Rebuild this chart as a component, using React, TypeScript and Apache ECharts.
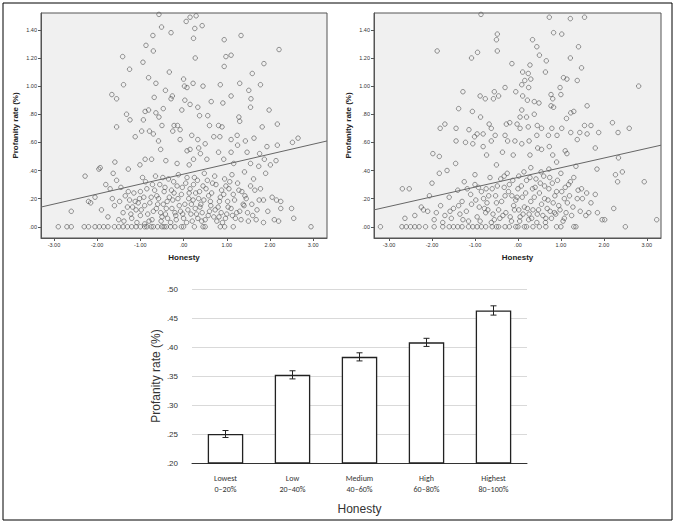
import React, { useEffect, useRef } from 'react';
import * as echarts from 'echarts';

// ---- panel A (left scatter) ----
const scatterAUpper: number[][] = [
  [-0.57,1.51],[0.06,1.46],[0.15,1.49],[0.29,1.5],[0.43,1.43],[-0.51,1.42],[-0.29,1.38],[-0.71,1.36],[0.23,1.34],[0.26,1.41],
  [1.33,1.36],[0.94,1.33],[-0.87,1.29],[-0.7,1.25],[-1.41,1.21],[0.98,1.21],[1.1,1.22],[2.21,1.26],[0.27,1.2],[-0.94,1.17],
  [1.86,1.16],[-1.25,1.12],[0.94,1.14],[-0.33,1.1],[-0.81,1.06],[1.59,1.09],[0,1.05],[-1.39,1.01],[-0.64,1.02],[0.22,1.02],
  [1.3,1.02],[1.78,1.01],[0.02,1],[0.08,0.99],[0.45,1],[0.85,1.01],[1.51,0.97],[-0.42,0.97],[-1.66,0.94],[-1.55,0.91],
  [-0.26,0.93],[-0.68,0.92],[1.1,0.93],[1.56,0.91],[-0.29,0.91],[0.03,0.9],[0.64,0.89],[0.91,0.88],[0.15,0.87],[0.33,0.85],
  [1.55,0.85],[-0.47,0.84],[-0.04,0.83],[1.98,0.83],[-0.89,0.82],[-0.81,0.83],[-1.32,0.8],[-0.64,0.81],[-0.57,0.78],[0.37,0.79],
  [0.56,0.79],[1.28,0.78],[-1.24,0.76],[-0.93,0.76],[-0.5,0.72],[-0.22,0.72],[-0.14,0.72],[0.6,0.72],[0.81,0.72],[0.89,0.71],
  [1.3,0.75],[1.82,0.71],[2.17,0.73],[-1.55,0.71],[-0.97,0.68],[-0.79,0.68],[-0.7,0.66],[-0.25,0.68],[-0.08,0.69],[0.19,0.65],
  [0.7,0.64],[0.84,0.64],[1.1,0.62],[1.24,0.65],[1.63,0.63],[-1.12,0.64],[-0.08,0.62],[0.33,0.62],[2.52,0.6],[2.65,0.63],
  [2.17,0.58],[1.93,0.57],[1.43,0.61],[-0.58,0.61],[0.5,0.59],[1.25,0.58],[0.35,0.56],[0.15,0.55],[-0.53,0.55],[0.08,0.54],
  [0.39,0.52],[0.81,0.53],[1.1,0.53],[1.47,0.53],[1.76,0.52],[-1.59,0.46],[1.87,0.48],[2.14,0.47],[-0.89,0.48],[-0.74,0.48],
  [-0.41,0.47],[0.23,0.48],[0.54,0.48],[0.93,0.48],[1.16,0.45],[1.55,0.45],[2.01,0.44],[-1.01,0.44],[-0.15,0.45],[0.13,0.44],
  [-1.63,0.38],[-1.28,0.41],[-1.93,0.42],[-1.96,0.41],[1.41,0.39],[1.9,0.38],[1.74,0.43],[-2.28,0.36],
];
const scatterALower: number[][] = [
  [-1.8,0.3],[-1.7,0.27],[-1.55,0.33],[-1.45,0.28],[-1.35,0.22],[-1.25,0.19],[-1.15,0.24],[-1.05,0.17],[-0.95,0.35],[-0.85,0.27],
  [-0.75,0.21],[-0.65,0.36],[-0.55,0.3],[-0.45,0.25],[-0.35,0.34],[-0.25,0.19],[-0.15,0.29],[-0.05,0.23],[0.05,0.31],[0.15,0.27],
  [0.25,0.35],[0.35,0.2],[0.45,0.29],[0.55,0.33],[0.65,0.24],[0.75,0.3],[0.85,0.21],[0.95,0.34],[1.05,0.27],[1.15,0.23],
  [1.25,0.31],[1.35,0.25],[1.45,0.2],[1.55,0.29],[1.65,0.26],[1.75,0.19],[1.85,0.19],[2.05,0.21],[2.15,0.19],[2.25,0.18],
  [-2.2,0.18],[-2.05,0.21],[-1.9,0.12],[-1.75,0.07],[-1.6,0.15],[-1.5,0.05],[-1.4,0.1],[-1.3,0.14],[-1.2,0.06],[-1.1,0.12],
  [-1.0,0.08],[-0.9,0.15],[-0.8,0.04],[-0.7,0.11],[-0.6,0.16],[-0.5,0.07],[-0.4,0.13],[-0.3,0.03],[-0.2,0.1],[-0.1,0.15],
  [0.0,0.06],[0.1,0.12],[0.2,0.04],[0.3,0.09],[0.4,0.16],[0.5,0.05],[0.6,0.11],[0.7,0.07],[0.8,0.14],[0.9,0.03],
  [1.0,0.09],[1.1,0.13],[1.2,0.06],[1.3,0.11],[1.4,0.15],[1.5,0.04],[1.6,0.08],[1.7,0.12],[1.85,0.03],[1.95,0.11],
  [2.1,0.05],[2.2,0.04],[2.25,0.13],[2.5,0.13],[2.55,0.06],[-2.6,0.11],[-2.15,0.17],[-1.65,0.2],[-1.0,0.25],[-0.62,0.22],
  [-0.38,0.18],[-0.12,0.37],[0.12,0.2],[0.38,0.14],[0.62,0.18],[0.88,0.26],[1.12,0.37],[1.38,0.16],[1.62,0.34],[-0.9,0.02],
  [-0.28,0.26],[0.28,0.24],[0.48,0.38],[-0.48,0.35],[0.72,0.36],[-0.72,0.3],[1.02,0.18],[-1.02,0.2],[0.18,0.16],[-0.18,0.08],
];
const scatterADense: number[][] = [
  [-1.22,0.09],[-1.12,0.18],[-1.08,0.03],[-0.98,0.12],[-0.92,0.21],[-0.83,0.09],[-0.78,0.17],[-0.73,0.05],[-0.67,0.26],[-0.63,0.13],
  [-0.58,0.2],[-0.53,0.1],[-0.47,0.16],[-0.43,0.28],[-0.37,0.06],[-0.33,0.21],[-0.27,0.13],[-0.23,0.32],[-0.17,0.05],[-0.13,0.2],
  [-0.07,0.11],[-0.03,0.28],[0.03,0.16],[0.07,0.03],[0.13,0.24],[0.17,0.09],[0.23,0.3],[0.27,0.13],[0.33,0.06],[0.37,0.25],
  [0.43,0.1],[0.47,0.19],[0.52,0.27],[0.57,0.08],[0.63,0.15],[0.67,0.31],[0.73,0.12],[0.77,0.04],[0.83,0.18],[0.87,0.1],
  [0.93,0.23],[0.97,0.06],[1.03,0.14],[1.07,0.32],[1.13,0.08],[1.18,0.19],[1.23,0.1],[1.28,0.26],[1.33,0.05],[1.42,0.22],
  [1.48,0.1],[1.58,0.16],[1.68,0.05],[1.78,0.27],[-1.48,0.18],[-1.38,0.04],[-1.28,0.25],[-1.18,0.14],[-0.88,0.32],[-0.52,0.04],
  [0.08,0.35],[0.58,0.22],[0.98,0.29],[-0.02,0.09],[0.32,0.33],[-0.42,0.09],[0.22,0.19],[0.82,0.07],[-0.22,0.24],[0.42,0.04],
];
const scatterAZeroX: number[] = [
  -2.9,-2.7,-2.6,-2.3,-2.2,-2.05,-1.95,-1.85,-1.75,-1.6,-1.5,-1.4,-1.3,-1.2,-1.1,-1.0,-0.9,-0.85,-0.75,-0.7,-0.6,-0.5,
  -0.45,-0.4,-0.3,-0.2,-0.05,0.0,0.25,0.45,0.5,0.85,0.95,1.15,2.95,
];
const lineA: number[][] = [[-3.3,0.14],[3.32,0.61]];

// ---- panel B (right scatter) ----
const scatterBUpper: number[][] = [
  [-0.86,1.51],[-0.06,1.53],[0.73,1.49],[1.22,1.48],[1.55,1.49],[-0.48,1.37],[-0.5,1.33],[0.34,1.33],[0.83,1.38],[1.02,1.37],
  [-0.48,1.25],[-1.88,1.25],[-0.94,1.24],[0.44,1.28],[1.41,1.28],[-1.08,1.2],[0.5,1.22],[1.22,1.2],[0.66,1.18],[-0.14,1.16],
  [0.28,1.15],[1.48,1.13],[0.11,1.1],[0.64,1.1],[0.24,1.09],[1.06,1.06],[1.14,1.05],[0.3,1.05],[0.16,1.04],[1.38,1.04],
  [0.09,1.01],[0.25,0.99],[0.98,0.99],[-0.3,0.99],[2.81,1],[-1.28,0.96],[-0.55,0.96],[-0.05,0.96],[-0.88,0.93],[-0.45,0.93],
  [0.11,0.93],[0.77,0.94],[1,0.94],[-0.76,0.91],[-0.57,0.91],[0.81,0.91],[0.22,0.9],[0.38,0.89],[0.49,0.88],[0.77,0.86],
  [1.61,0.86],[-1.38,0.84],[0.83,0.85],[0.09,0.83],[-1.06,0.82],[1.3,0.82],[1.23,0.81],[0.38,0.8],[-0.87,0.78],[0.05,0.78],
  [0.2,0.78],[1.13,0.77],[-0.67,0.73],[-0.27,0.73],[-0.19,0.74],[-0.02,0.73],[2.2,0.74],[-1.7,0.73],[-1.81,0.7],[-1.44,0.7],
  [-0.62,0.7],[0.05,0.7],[0.24,0.71],[0.45,0.72],[0.55,0.7],[0.79,0.7],[1.02,0.7],[1.55,0.72],[1.7,0.72],[2.59,0.7],
  [-1.14,0.69],[1.88,0.67],[2.33,0.67],[1.23,0.67],[1.44,0.67],[1.61,0.66],[-0.95,0.66],[-0.81,0.66],[-0.53,0.65],[-0.3,0.65],
  [0.44,0.65],[0.71,0.65],[0.91,0.65],[-1.01,0.64],[-1.44,0.61],[-1.22,0.6],[-0.62,0.61],[-0.24,0.61],[-0.07,0.61],[0.26,0.61],
  [1.38,0.62],[-1.05,0.59],[0.09,0.59],[-0.81,0.57],[1.8,0.56],[0.73,0.57],[0.46,0.56],[0.55,0.55],[-1.98,0.52],[-1.83,0.5],
  [-0.73,0.51],[-0.36,0.53],[1.1,0.54],[1.14,0.52],[2.34,0.49],[-0.11,0.51],[0.28,0.51],[0.81,0.51],[1.84,0.41],[2.43,0.39],
  [-1.83,0.38],[-1.65,0.4],[2.27,0.37],[2.32,0.32],[2.94,0.32],[-2.69,0.27],[-2.53,0.27],[-2.0,0.31],[-2.06,0.22],[2.23,0.13],
  [3.23,0.05],[2.02,0.05],[1.96,0.05],
];
const scatterBLower: number[][] = [
  [-1.9,0.1],[-1.8,0.15],[-1.7,0.08],[-1.6,0.21],[-1.5,0.13],[-1.4,0.26],[-1.3,0.18],[-1.2,0.11],[-1.1,0.23],[-1.0,0.3],
  [-0.9,0.14],[-0.8,0.2],[-0.7,0.12],[-0.6,0.27],[-0.5,0.17],[-0.4,0.34],[-0.3,0.22],[-0.2,0.3],[-0.1,0.15],[0.0,0.27],
  [0.1,0.21],[0.2,0.33],[0.3,0.18],[0.4,0.28],[0.5,0.24],[0.6,0.36],[0.7,0.19],[0.8,0.31],[0.9,0.25],[1.0,0.38],
  [1.1,0.28],[1.2,0.22],[1.3,0.35],[1.4,0.26],[1.5,0.2],[1.6,0.24],[1.7,0.17],[1.8,0.23],[1.85,0.1],[1.65,0.1],
  [-2.4,0.08],[-2.25,0.14],[-2.1,0.11],[-1.95,0.05],[-1.75,0.03],[-1.55,0.06],[-1.35,0.09],[-1.15,0.04],[-0.95,0.07],[-0.75,0.1],
  [-0.55,0.05],[-0.35,0.08],[-0.15,0.04],[0.05,0.07],[0.25,0.05],[0.45,0.09],[0.65,0.06],[0.85,0.1],[1.05,0.04],[1.25,0.08],
  [1.45,0.11],[-0.85,0.25],[-0.45,0.12],[-0.25,0.38],[0.15,0.14],[0.35,0.12],[0.55,0.16],[0.75,0.11],[0.95,0.15],[1.15,0.17],
  [-1.25,0.32],[-0.65,0.35],[0.02,0.36],[0.62,0.29],[1.22,0.32],[-1.45,0.45],[-1.0,0.37],[-0.5,0.44],[0.3,0.42],[0.9,0.46],
  [1.35,0.43],[-2.63,0.06],[-2.2,0.12],[-0.05,0.19],[-0.32,0.28],[0.42,0.34],[0.72,0.41],[1.08,0.2],[-0.72,0.17],[-1.08,0.16],
];
const scatterBDense: number[][] = [
  [-0.98,0.19],[-0.88,0.04],[-0.78,0.13],[-0.68,0.22],[-0.58,0.09],[-0.48,0.29],[-0.42,0.06],[-0.38,0.18],[-0.28,0.1],[-0.22,0.25],
  [-0.18,0.07],[-0.12,0.33],[-0.08,0.12],[-0.02,0.21],[0.04,0.04],[0.08,0.29],[0.12,0.09],[0.18,0.24],[0.22,0.13],[0.28,0.35],
  [0.32,0.06],[0.38,0.21],[0.48,0.12],[0.52,0.31],[0.58,0.08],[0.62,0.2],[0.68,0.13],[0.72,0.27],[0.78,0.06],[0.82,0.17],
  [0.88,0.09],[0.92,0.33],[0.98,0.12],[1.02,0.25],[1.12,0.1],[1.18,0.3],[1.28,0.14],[1.38,0.2],[1.48,0.27],[1.58,0.08],
  [-1.28,0.05],[-1.18,0.27],[-1.38,0.15],[-1.58,0.11],[-0.92,0.28],[-0.62,0.03],[-0.32,0.36],[0.14,0.39],[0.44,0.03],[0.74,0.35],
  [-0.52,0.22],[0.02,0.12],[0.34,0.27],[0.64,0.03],[-0.14,0.22],[0.54,0.39],[1.08,0.06],[-0.74,0.27],[0.26,0.09],[0.86,0.22],
];
const scatterBZeroX: number[] = [
  -3.2,-2.7,-2.6,-2.5,-2.4,-2.3,-2.15,-1.95,-1.75,-1.6,-1.5,-1.4,-1.3,-1.15,-1.05,-0.95,-0.85,-0.75,-0.6,-0.5,-0.45,
  -0.3,-0.2,-0.05,0.0,0.15,0.2,0.35,0.5,0.65,0.9,1.0,1.3,1.35,2.5,
];
const lineB: number[][] = [[-3.35,0.12],[3.33,0.58]];

// ---- panel C (bars) ----
const barCategories = ['Lowest\n0–20%', 'Low\n20–40%', 'Medium\n40–60%', 'High\n60–80%', 'Highest\n80–100%'];
const barValues = [0.25, 0.352, 0.383, 0.408, 0.463];
const barErrors = [0.006, 0.007, 0.007, 0.007, 0.008];

const scatterTicksX = [-3, -2, -1, 0, 1, 2, 3];
const scatterTicksY = [0, 0.2, 0.4, 0.6, 0.8, 1.0, 1.2, 1.4];

const fmt = (v: number) => {
  const s = Math.abs(v).toFixed(2).replace(/^0/, '');
  return v < -0.0001 ? '-' + Math.abs(v).toFixed(2) : s;
};

const App: React.FC = () => {
  const ref = useRef<HTMLDivElement>(null);

  useEffect(() => {
    if (!ref.current) return;
    const chart = echarts.init(ref.current, null, { renderer: 'svg' });

    const scatterX = (gi: number, min: number, max: number) => ({
      type: 'value' as const,
      gridIndex: gi,
      min,
      max,
      name: 'Honesty',
      nameLocation: 'middle' as const,
      nameGap: 15,
      nameTextStyle: { fontSize: 8, fontWeight: 'bold', color: '#222', fontFamily: 'Arial' },
      axisLine: { onZero: false, lineStyle: { color: '#555' } },
      axisTick: { show: true, customValues: scatterTicksX, length: 3, lineStyle: { color: '#555' } },
      axisLabel: { customValues: scatterTicksX, formatter: fmt, fontSize: 5.5, color: '#333', margin: 4 },
      splitLine: { show: false },
    });
    const scatterY = (gi: number) => ({
      type: 'value' as const,
      gridIndex: gi,
      min: -0.08,
      max: 1.52,
      name: 'Profanity rate (%)',
      nameLocation: 'middle' as const,
      nameGap: 22,
      nameTextStyle: { fontSize: 8, fontWeight: 'bold', color: '#222', fontFamily: 'Arial' },
      axisLine: { show: true, onZero: false, lineStyle: { color: '#555' } },
      axisTick: { show: true, customValues: scatterTicksY, length: 3, lineStyle: { color: '#555' } },
      axisLabel: { customValues: scatterTicksY, formatter: fmt, fontSize: 5.5, color: '#333', margin: 4 },
      splitLine: { show: false },
    });

    const dots = (gi: number, data: number[][]) => ({
      type: 'scatter' as const,
      xAxisIndex: gi,
      yAxisIndex: gi,
      symbol: 'circle',
      symbolSize: 4.5,
      itemStyle: { color: 'rgba(0,0,0,0)', borderColor: '#555', borderWidth: 0.8 },
      data,
      silent: true,
    });
    const fit = (gi: number, data: number[][]) => ({
      type: 'line' as const,
      xAxisIndex: gi,
      yAxisIndex: gi,
      data,
      symbol: 'none',
      lineStyle: { color: '#666', width: 1 },
      silent: true,
    });

    chart.setOption({
      animation: false,
      textStyle: { fontFamily: 'Arial' },
      graphic: [
        { type: 'rect', shape: { x: 3, y: 3, width: 669, height: 517 }, style: { fill: 'none', stroke: '#000', lineWidth: 1 } },
      ],
      grid: [
        { left: 41, top: 13, width: 286, height: 225, show: true, backgroundColor: '#f0f0f0', borderColor: '#555' },
        { left: 374, top: 13, width: 287, height: 225, show: true, backgroundColor: '#f0f0f0', borderColor: '#555' },
        { left: 192, top: 289, width: 335, height: 174 },
      ],
      xAxis: [
        scatterX(0, -3.3, 3.32),
        scatterX(1, -3.35, 3.33),
        {
          type: 'category',
          gridIndex: 2,
          data: barCategories,
          axisLine: { lineStyle: { color: '#333', width: 1 } },
          axisTick: { show: false },
          axisLabel: { fontSize: 8, color: '#333', lineHeight: 11, margin: 9, fontFamily: 'Calibri, Carlito, Liberation Sans' },
          name: 'Honesty',
          nameLocation: 'middle',
          nameGap: 40,
          nameTextStyle: { fontSize: 12, color: '#333' },
        },
      ],
      yAxis: [
        scatterY(0),
        scatterY(1),
        {
          type: 'value',
          gridIndex: 2,
          min: 0.2,
          max: 0.5,
          interval: 0.05,
          axisLine: { show: false },
          axisTick: { show: false },
          axisLabel: { formatter: fmt, fontSize: 8, color: '#333', margin: 14 },
          splitLine: { lineStyle: { color: '#d9d9d9' } },
          name: 'Profanity rate (%)',
          nameLocation: 'middle',
          nameGap: 30,
          nameTextStyle: { fontSize: 12, color: '#333' },
        },
      ],
      series: [
        dots(0, [...scatterAUpper, ...scatterALower, ...scatterADense, ...scatterAZeroX.map((x) => [x, 0])]),
        fit(0, lineA),
        dots(1, [...scatterBUpper, ...scatterBLower, ...scatterBDense, ...scatterBZeroX.map((x) => [x, 0])]),
        fit(1, lineB),
        {
          type: 'bar',
          xAxisIndex: 2,
          yAxisIndex: 2,
          data: barValues,
          barWidth: '53%',
          itemStyle: { color: '#fff', borderColor: '#222', borderWidth: 1.3 },
          silent: true,
        },
        {
          type: 'custom',
          xAxisIndex: 2,
          yAxisIndex: 2,
          data: barValues.map((v, i) => [i, v - barErrors[i], v + barErrors[i]]),
          renderItem: (params: any, api: any) => {
            const lo = api.coord([api.value(0), api.value(1)]);
            const hi = api.coord([api.value(0), api.value(2)]);
            const w = 3;
            const st = { stroke: '#222', lineWidth: 1 };
            return {
              type: 'group',
              children: [
                { type: 'line', shape: { x1: lo[0], y1: lo[1], x2: hi[0], y2: hi[1] }, style: st },
                { type: 'line', shape: { x1: lo[0] - w, y1: lo[1], x2: lo[0] + w, y2: lo[1] }, style: st },
                { type: 'line', shape: { x1: hi[0] - w, y1: hi[1], x2: hi[0] + w, y2: hi[1] }, style: st },
              ],
            };
          },
          silent: true,
          z: 5,
        },
      ],
    });

    return () => chart.dispose();
  }, []);

  return (
    <div
      ref={ref}
      style={{ position: 'fixed', left: 0, top: 0, width: 680, height: 525, background: '#fff' }}
    />
  );
};

export default App;
